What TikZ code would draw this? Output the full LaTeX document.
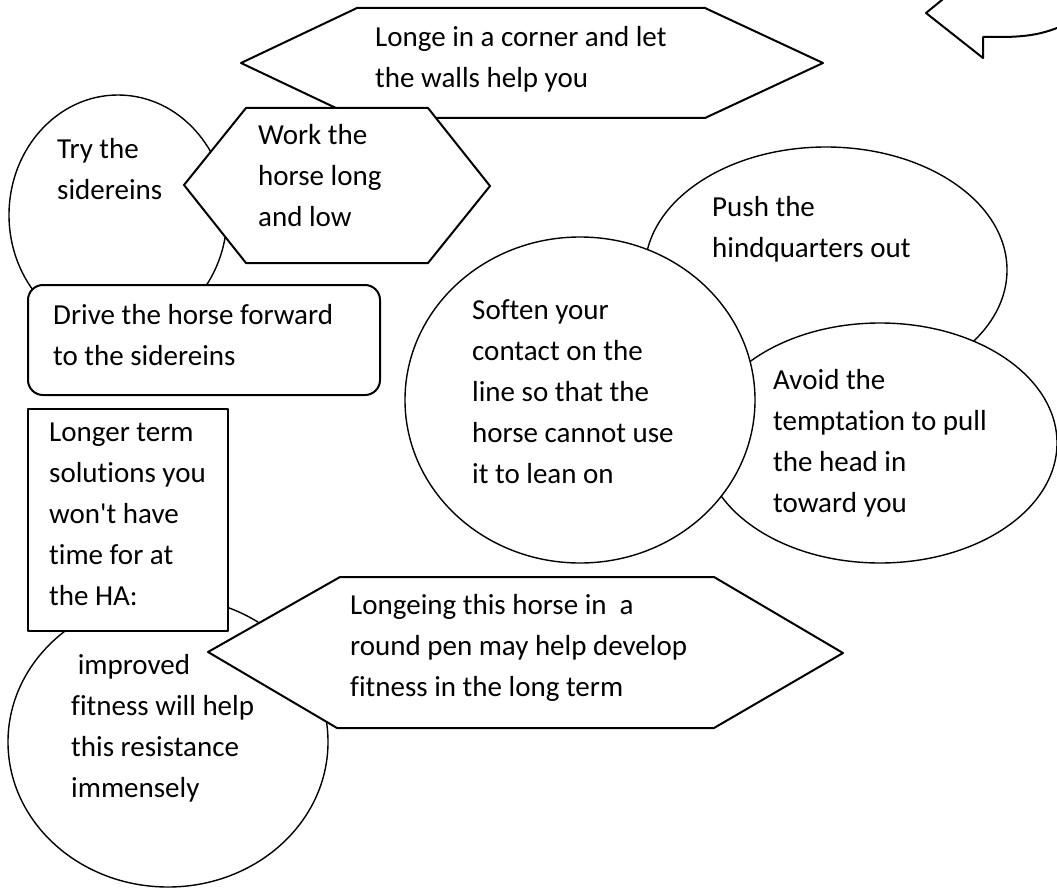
\documentclass[tikz,border=0pt]{standalone}
\usepackage{fontspec}
\setmainfont{Carlito}[Ligatures={TeX,NoCommon}]
\begin{document}
\begin{tikzpicture}[x=1pt,y=-1pt,line join=round,line cap=round,
  font=\fontsize{29}{41}\selectfont,
  poly/.style={draw,fill=white,line width=2pt},
  oval/.style={draw,fill=white,line width=1.4pt},
  lbl/.style={anchor=north west,inner sep=0pt,align=left}]
\clip (0,0) rectangle (1057,888);
\draw[poly] (241,63)--(357,8)--(705,8)--(823,63)--(705,118)--(357,118)--cycle;
\node[lbl] (longe) at (375,26) {Longe in a corner and let\\the walls help you};
\draw[oval] (118,215) ellipse [x radius=109pt,y radius=120pt];
\node[lbl] (try) at (57,138) {Try the\\sidereins};
\draw[poly] (184,185)--(246,108)--(428,108)--(490,186)--(428,263)--(246,263)--cycle;
\node[lbl] (work) at (258,124) {Work the\\horse long\\and low};
\draw[poly,rounded corners=15pt] (28,285) rectangle (380,395);
\node[lbl] (drive) at (53,304) {Drive the horse forward\\to the sidereins};
\draw[oval] (826,270) ellipse [x radius=181pt,y radius=123pt];
\node[lbl] (push) at (712,196) {Push the\\hindquarters out};
\draw[oval] (880,443) ellipse [x radius=177pt,y radius=120pt];
\node[lbl] (avoid) at (773,369) {Avoid the\\temptation to pull\\the head in\\toward you};
\draw[oval] (580,400) ellipse [x radius=175pt,y radius=163pt];
\node[lbl] (soften) at (472,299) {Soften your\\contact on the\\line so that the\\horse cannot use\\it to lean on};
\draw[oval] (168,742) ellipse [x radius=160pt,y radius=145pt];
\node[lbl] (improved) at (71,654) {\ improved\\fitness will help\\this resistance\\immensely};
\draw[poly] (28,409) rectangle (228,631);
\node[lbl] (longer) at (49,423) {Longer term\\solutions you\\won\textquotesingle t have\\time for at\\the HA:};
\draw[poly] (208,652)--(340,577)--(714,577)--(843,653)--(714,728)--(337,728)--cycle;
\node[lbl] (pen) at (350,594) {Longeing this horse in~ a\\round pen may help develop\\fitness in the long term};
\draw[line width=2pt] (948,-5)--(926,13)--(983,58)--(983,37)--(1000,37) .. controls (1030,37) and (1045,33) .. (1062,26);
\end{tikzpicture}
\end{document}
